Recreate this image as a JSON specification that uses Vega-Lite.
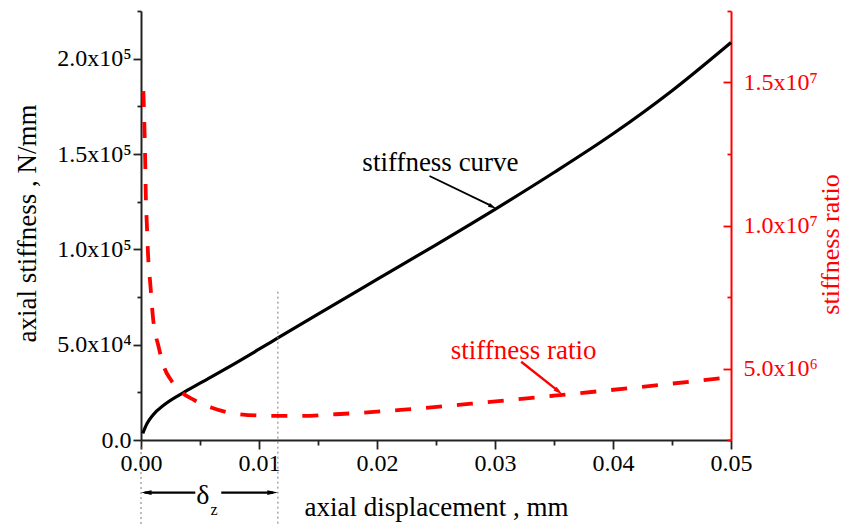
{
  "$schema": "https://vega.github.io/schema/vega-lite/v6.json",
  "width": 590,
  "height": 429,
  "autosize": "none",
  "padding": {"left": 141, "top": 11, "right": 119, "bottom": 86},
  "background": "white",
  "config": {
    "view": {"stroke": null},
    "font": "Liberation Serif",
    "axis": {"grid": false, "labelFont": "Liberation Serif", "titleFont": "Liberation Serif", "titleFontWeight": "normal"}
  },
  "datasets": {
    "stiff": [
      {"x": 0.00015, "k": 3500},
      {"x": 0.0005, "k": 8500},
      {"x": 0.001, "k": 13000},
      {"x": 0.002, "k": 18600},
      {"x": 0.0035, "k": 24500},
      {"x": 0.005, "k": 29800},
      {"x": 0.0075, "k": 38500},
      {"x": 0.01, "k": 47600},
      {"x": 0.0116, "k": 53500},
      {"x": 0.015, "k": 66000},
      {"x": 0.02, "k": 84200},
      {"x": 0.025, "k": 102400},
      {"x": 0.03, "k": 121000},
      {"x": 0.035, "k": 140300},
      {"x": 0.04, "k": 160600},
      {"x": 0.045, "k": 183200},
      {"x": 0.05, "k": 208500}
    ],
    "ratio": [
      {"x": 0.0002, "r": 14700000},
      {"x": 0.0003, "r": 13300000},
      {"x": 0.00036, "r": 12200000},
      {"x": 0.0004, "r": 11200000},
      {"x": 0.0005, "r": 10000000},
      {"x": 0.0006, "r": 8950000},
      {"x": 0.0008, "r": 7900000},
      {"x": 0.001, "r": 6850000},
      {"x": 0.0015, "r": 5750000},
      {"x": 0.002, "r": 5000000},
      {"x": 0.0025, "r": 4620000},
      {"x": 0.0035, "r": 4150000},
      {"x": 0.0045, "r": 3900000},
      {"x": 0.006, "r": 3630000},
      {"x": 0.008, "r": 3420000},
      {"x": 0.0105, "r": 3350000},
      {"x": 0.0135, "r": 3340000},
      {"x": 0.0165, "r": 3400000},
      {"x": 0.022, "r": 3550000},
      {"x": 0.028, "r": 3770000},
      {"x": 0.035, "r": 4050000},
      {"x": 0.042, "r": 4340000},
      {"x": 0.05, "r": 4700000}
    ]
  },
  "layer": [
    {
      "layer": [
        {
          "data": {"name": "stiff"},
          "mark": {"type": "line", "color": "#000000", "strokeWidth": 3.2, "interpolate": "monotone"},
          "encoding": {
            "x": {
              "field": "x", "type": "quantitative",
              "scale": {"domain": [0, 0.05], "nice": false, "zero": false},
              "axis": {
                "title": "axial displacement , mm",
                "values": [0, 0.005, 0.01, 0.015, 0.02, 0.025, 0.03, 0.035, 0.04, 0.045, 0.05],
                "labelExpr": "round(datum.value*200)%2==0 ? format(datum.value,'.2f') : ''",
                "labelFontSize": 24, "labelColor": "#000000", "labelPadding": 2,
                "labelFlush": false, "labelOverlap": false,
                "tickSize": {"condition": {"test": "round(datum.value*200)%2==0", "value": 9}, "value": 5},
                "tickColor": "#222222", "tickWidth": 1.8,
                "domainColor": "#222222", "domainWidth": 2,
                "titleFontSize": 27, "titleColor": "#000000",
                "titleBaseline": "alphabetic", "titleY": 75
              }
            },
            "y": {
              "field": "k", "type": "quantitative",
              "scale": {"domain": [0, 225000], "nice": false, "zero": false},
              "axis": {
                "title": "axial stiffness , N/mm",
                "orient": "left",
                "values": [0, 25000, 50000, 75000, 100000, 125000, 150000, 175000, 200000, 225000],
                "labelExpr": "datum.value==0?'0.0':datum.value==50000?'5.0x10⁴':datum.value==100000?'1.0x10⁵':datum.value==150000?'1.5x10⁵':datum.value==200000?'2.0x10⁵':''",
                "labelFontSize": 24, "labelColor": "#000000", "labelPadding": 2,
                "labelOverlap": false, "labelFlush": false,
                "tickSize": {"condition": {"test": "datum.value%50000==0", "value": 8}, "value": 4},
                "tickColor": "#222222", "tickWidth": 1.8,
                "domainColor": "#222222", "domainWidth": 2,
                "titleFontSize": 27, "titleColor": "#000000",
                "titleAngle": 270, "titleX": -114, "titleY": 212, "titleBaseline": "middle"
              }
            }
          }
        },
        {
          "data": {"values": [{"x": 0, "top": -3700, "bottom": -45000}, {"x": 0.0116, "top": 77800, "bottom": -45000}]},
          "mark": {"type": "rule", "color": "#777777", "strokeWidth": 1, "strokeDash": [2, 3]},
          "encoding": {
            "x": {"field": "x", "type": "quantitative"},
            "y": {"field": "top", "type": "quantitative"},
            "y2": {"field": "bottom"}
          }
        },
        {
          "data": {"values": [{"x": 0.02445, "y": 138470, "x2": 0.0297, "y2": 122800}]},
          "mark": {"type": "rule", "color": "#000000", "strokeWidth": 1.8},
          "encoding": {
            "x": {"field": "x", "type": "quantitative"},
            "y": {"field": "y", "type": "quantitative"},
            "x2": {"field": "x2"},
            "y2": {"field": "y2"}
          }
        },
        {
          "data": {"values": [{"x": 0.0298, "y": 122300}]},
          "mark": {"type": "point", "shape": "M1,0L-1,-0.5L-1,0.5Z", "filled": true, "color": "#000000", "opacity": 1, "size": 70, "angle": 26},
          "encoding": {
            "x": {"field": "x", "type": "quantitative"},
            "y": {"field": "y", "type": "quantitative"}
          }
        },
        {
          "data": {"values": [{"x": 0.03222, "y": 41070, "x2": 0.0354, "y2": 25500}]},
          "mark": {"type": "rule", "color": "#ff0000", "strokeWidth": 2.4},
          "encoding": {
            "x": {"field": "x", "type": "quantitative"},
            "y": {"field": "y", "type": "quantitative"},
            "x2": {"field": "x2"},
            "y2": {"field": "y2"}
          }
        },
        {
          "data": {"values": [{"x": 0.0354, "y": 25400}]},
          "mark": {"type": "point", "shape": "M1,0L-1,-0.5L-1,0.5Z", "filled": true, "color": "#ff0000", "opacity": 1, "size": 90, "angle": 38},
          "encoding": {
            "x": {"field": "x", "type": "quantitative"},
            "y": {"field": "y", "type": "quantitative"}
          }
        },
        {
          "data": {"values": [{"x": 0.0003, "x2": 0.0046, "y": -27600}, {"x": 0.0068, "x2": 0.0112, "y": -27600}]},
          "mark": {"type": "rule", "color": "#000000", "strokeWidth": 2.2},
          "encoding": {
            "x": {"field": "x", "type": "quantitative"},
            "x2": {"field": "x2"},
            "y": {"field": "y", "type": "quantitative"}
          }
        },
        {
          "data": {"values": [{"x": 0.00045, "y": -27600}]},
          "mark": {"type": "point", "shape": "M1,0L-1,-0.45L-1,0.45Z", "filled": true, "color": "#000000", "opacity": 1, "size": 110, "angle": 180},
          "encoding": {
            "x": {"field": "x", "type": "quantitative"},
            "y": {"field": "y", "type": "quantitative"}
          }
        },
        {
          "data": {"values": [{"x": 0.01115, "y": -27600}]},
          "mark": {"type": "point", "shape": "M1,0L-1,-0.45L-1,0.45Z", "filled": true, "color": "#000000", "opacity": 1, "size": 110, "angle": 0},
          "encoding": {
            "x": {"field": "x", "type": "quantitative"},
            "y": {"field": "y", "type": "quantitative"}
          }
        },
        {
          "data": {"values": [{"x": 0.02538, "y": 145300, "t": "stiffness curve"}]},
          "mark": {"type": "text", "font": "Liberation Serif", "fontSize": 27, "color": "#000000", "align": "center", "baseline": "middle"},
          "encoding": {
            "x": {"field": "x", "type": "quantitative"},
            "y": {"field": "y", "type": "quantitative"},
            "text": {"field": "t"}
          }
        },
        {
          "data": {"values": [{"x": 0.03242, "y": 46700, "t": "stiffness ratio"}]},
          "mark": {"type": "text", "font": "Liberation Serif", "fontSize": 27, "color": "#ff0000", "align": "center", "baseline": "middle"},
          "encoding": {
            "x": {"field": "x", "type": "quantitative"},
            "y": {"field": "y", "type": "quantitative"},
            "text": {"field": "t"}
          }
        },
        {
          "data": {"values": [{"x": 0.00525, "y": -29400, "t": "δ"}]},
          "mark": {"type": "text", "font": "Liberation Serif", "fontSize": 28, "color": "#000000", "align": "center", "baseline": "middle"},
          "encoding": {
            "x": {"field": "x", "type": "quantitative"},
            "y": {"field": "y", "type": "quantitative"},
            "text": {"field": "t"}
          }
        },
        {
          "data": {"values": [{"x": 0.0062, "y": -36500, "t": "z"}]},
          "mark": {"type": "text", "font": "Liberation Serif", "fontSize": 16, "color": "#000000", "align": "center", "baseline": "middle"},
          "encoding": {
            "x": {"field": "x", "type": "quantitative"},
            "y": {"field": "y", "type": "quantitative"},
            "text": {"field": "t"}
          }
        }
      ]
    },
    {
      "layer": [
        {
          "data": {"name": "ratio"},
          "mark": {"type": "line", "color": "#ff0000", "strokeWidth": 3.8, "strokeDash": [16, 15], "interpolate": "monotone"},
          "encoding": {
            "x": {"field": "x", "type": "quantitative"},
            "y": {
              "field": "r", "type": "quantitative",
              "scale": {"domain": [2500000, 17500000], "nice": false, "zero": false},
              "axis": {
                "title": "stiffness ratio",
                "orient": "right",
                "values": [2500000, 5000000, 7500000, 10000000, 12500000, 15000000, 17500000],
                "labelExpr": "datum.value==5000000?'5.0x10⁶':datum.value==10000000?'1.0x10⁷':datum.value==15000000?'1.5x10⁷':''",
                "labelFontSize": 24, "labelColor": "#ff0000", "labelPadding": 20,
                "labelOverlap": false, "labelFlush": false,
                "tickSize": {"condition": {"test": "datum.value%5000000==0", "value": -8}, "value": -4},
                "tickColor": "#ff0000", "tickWidth": 1.8,
                "domainColor": "#ff0000", "domainWidth": 2,
                "titleFontSize": 26, "titleColor": "#ff0000",
                "titleAngle": 270, "titleX": 99, "titleY": 233, "titleBaseline": "middle"
              }
            }
          }
        }
      ]
    }
  ],
  "resolve": {"scale": {"y": "independent"}}
}
